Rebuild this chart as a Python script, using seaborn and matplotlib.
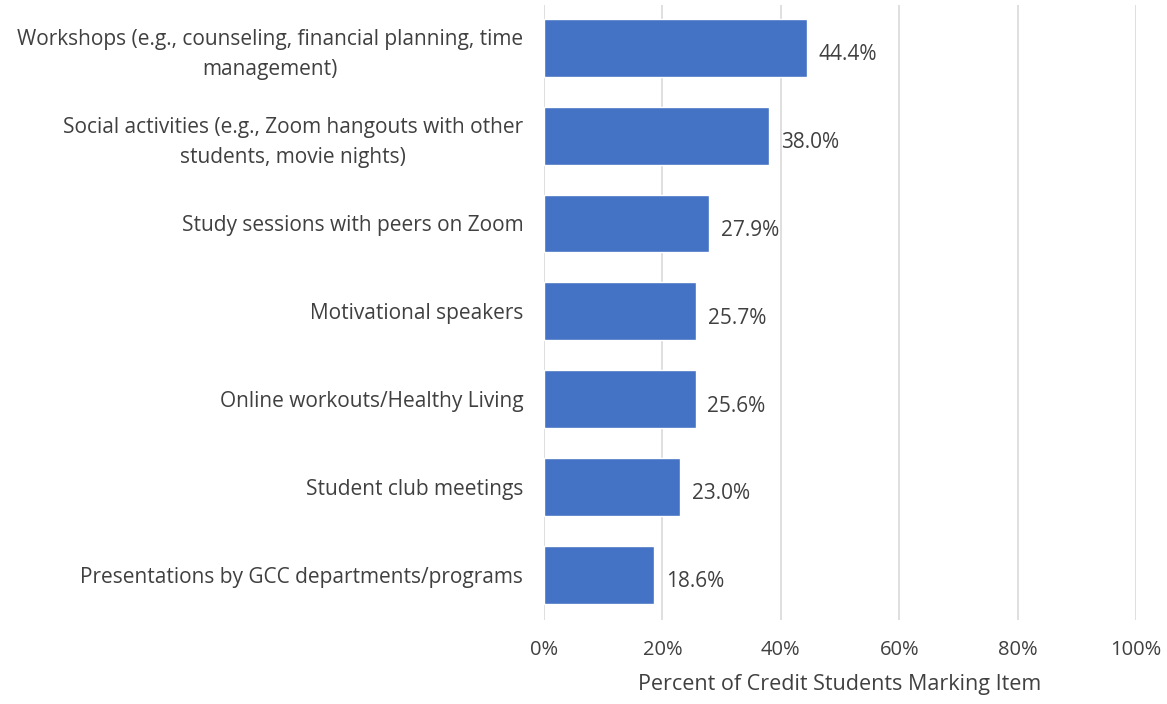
import matplotlib
matplotlib.use("Agg")
import matplotlib.pyplot as plt
import seaborn as sns
import pandas as pd
from matplotlib.ticker import PercentFormatter

# data
items = [
    "Workshops (e.g., counseling, financial planning, time\nmanagement)",
    "Social activities (e.g., Zoom hangouts with other\nstudents, movie nights)",
    "Study sessions with peers on Zoom",
    "Motivational speakers",
    "Online workouts/Healthy Living",
    "Student club meetings",
    "Presentations by GCC departments/programs",
]
percents = [44.4, 38.0, 27.9, 25.7, 25.6, 23.0, 18.6]
x_ticks = [0, 20, 40, 60, 80, 100]

df = pd.DataFrame({"item": items, "pct": percents})

sns.set_theme(style="white")
plt.rcParams["font.family"] = ["Open Sans", "DejaVu Sans"]
text_color = "#404040"

fig = plt.figure(figsize=(11.67, 7.04), dpi=100)
ax = fig.add_axes([0.4662, 0.119, 0.5073, 0.874])

sns.barplot(data=df, x="pct", y="item", orient="h", color="#4472C4",
            width=0.66, saturation=1, ax=ax, zorder=3)

for i, v in enumerate(percents):
    ax.text(v + 2.0, i + 0.08, f"{v:.1f}%", va="center", ha="left",
            fontsize=15, color=text_color)

ax.set_xlim(0, 100)
ax.set_ylim(6.52, -0.49)
ax.set_xticks(x_ticks)
ax.xaxis.set_major_formatter(PercentFormatter(decimals=0))
ax.grid(axis="x", color="#D9D9D9", linewidth=1.2, zorder=0)
ax.grid(axis="y", visible=False)
for s in ax.spines.values():
    s.set_visible(False)

ax.tick_params(axis="x", length=0, pad=14, labelsize=14.5, colors=text_color)
ax.tick_params(axis="y", length=0, pad=15, labelsize=15, colors=text_color)
for lab in ax.get_yticklabels():
    lab.set_multialignment("center")
    lab.set_linespacing(1.55)

ax.set_ylabel("")
ax.set_xlabel("Percent of Credit Students Marking Item", fontsize=15.5,
              color=text_color, labelpad=10)

fig.savefig("out.png", dpi=100)
